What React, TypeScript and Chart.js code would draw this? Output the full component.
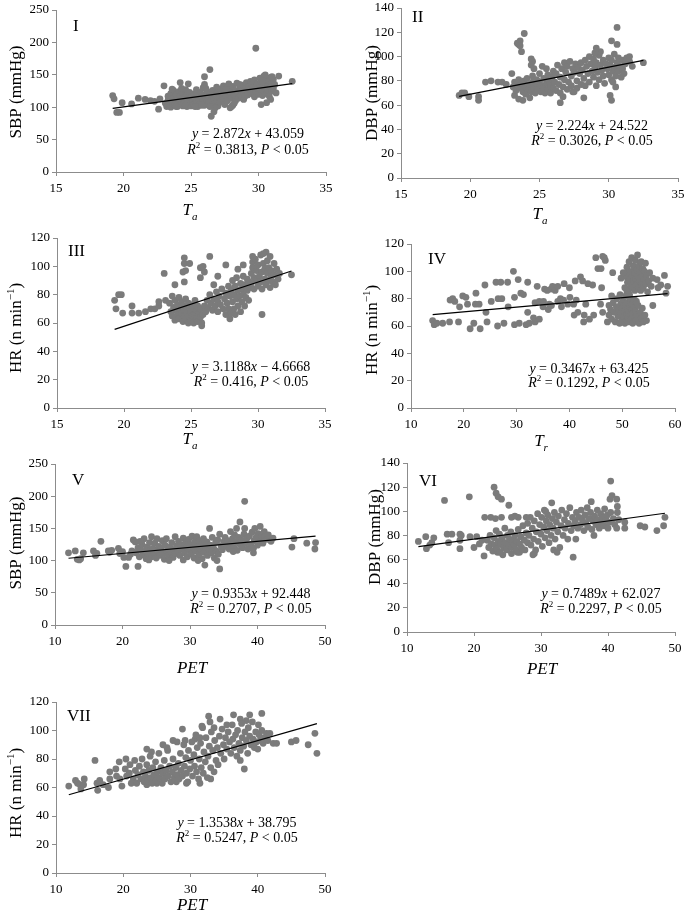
import React, { useEffect, useRef } from 'react';
import { Chart, registerables } from 'chart.js';

Chart.register(...registerables);

const SERIF = '"Liberation Serif", "Times New Roman", Times, serif';

// ---------------- DATA ----------------
// Panel I: Ta vs SBP
const ptsI: number[][] = [
  [19.2,118],[19.3,113],[19.5,92],[19.7,92],[19.9,107],[20.6,105],[21.1,114],[21.6,112],[22.0,110],[22.3,109],[22.7,113],[22.6,97],[23.0,133],
  [23.1,106],[23.2,101],[23.3,111],[23.3,117],[23.4,104],[23.5,121],[23.5,100],[23.6,109],[23.7,126],[23.7,114],[23.8,103],[23.9,119],[23.9,108],[24.0,101],[24.0,113],[24.1,124],[24.2,105],[24.2,117],[24.3,110],[24.4,102],[24.4,121],[24.5,114],[24.5,107],[24.6,127],[24.7,101],[24.7,118],[24.8,111],[24.9,105],[24.9,123],[25.0,115],[25.0,102],[24.2,138],[24.8,136],[23.6,128],[24.3,129],[23.9,101],[24.6,103],[25.0,109],
  [25.1,110],[25.2,120],[25.2,104],[25.3,114],[25.4,127],[25.4,108],[25.5,117],[25.5,101],[25.6,112],[25.7,123],[25.7,106],[25.8,116],[25.9,130],[25.9,110],[26.0,119],[26.0,103],[26.1,113],[26.2,124],[26.3,108],[26.3,117],[26.4,121],[26.5,111],[26.6,126],[26.7,114],[26.7,105],[26.8,119],[26.9,131],[26.9,110],[27.0,123],[27.0,102],
  [26.0,147],[26.4,158],[26.0,135],[26.1,129],[26.5,86],[26.7,93],[26.8,99],[25.3,101],[25.8,103],[26.4,101],
  [27.1,115],[27.2,128],[27.2,108],[27.3,120],[27.4,133],[27.4,112],[27.5,124],[27.5,104],[27.6,118],[27.7,130],[27.7,110],[27.8,136],[27.9,99],[27.9,122],[28.0,114],[28.0,128],[28.1,103],[28.1,132],[28.2,119],[28.3,125],[28.3,110],[28.4,137],[28.5,121],[28.5,114],[28.6,130],[28.7,118],[28.7,126],[28.8,134],[28.9,112],[28.9,123],[29.0,129],[29.0,117],[28.0,101],[28.2,106],[27.6,127],[28.6,135],
  [29.1,138],[29.2,125],[29.2,119],[29.3,132],[29.4,140],[29.4,127],[29.5,121],[29.5,135],[29.6,130],[29.7,142],[29.7,116],[29.8,124],[29.9,136],[30.0,128],[30.0,120],[30.1,145],[30.1,133],[30.2,126],[30.2,139],[30.3,118],[30.3,131],[30.4,148],[30.4,124],[30.5,137],[30.5,129],[30.6,143],[30.6,121],[30.7,134],[30.7,127],[30.8,140],[30.8,117],[30.9,146],[30.9,131],[31.0,125],[31.0,138],[31.1,143],[31.1,129],[31.2,135],[31.3,122],[30.5,150],[30.3,141],[31.0,147],
  [29.8,191],[31.5,148],[32.5,140],[30.2,104],[30.6,107],[30.9,112]
];

// Panel II: Ta vs DBP
const ptsII: number[][] = [
  [19.2,68],[19.4,70],[19.6,70],[19.9,67],[20.6,67],[20.6,64],[21.1,79],[21.5,80],[22.0,79],[22.3,79],[22.6,77],[23.0,86],
  [23.4,111],[23.5,110],[23.6,113],[23.9,119],[23.7,104],[23.6,109],[24.4,98],[24.5,96],[24.4,93],
  [23.2,68],[23.5,65],[23.8,64],[24.3,66],[26.5,62],[28.2,66],[27.4,71],[26.7,67],
  [23.1,75],[23.2,79],[23.3,72],[23.4,77],[23.5,81],[23.6,74],[23.7,78],[23.8,71],[23.9,80],[24.0,75],[24.0,69],[24.1,82],[24.2,73],[24.3,77],[24.4,71],[24.5,79],[24.5,84],[24.6,74],[24.7,70],[24.8,81],[24.8,77],[24.9,73],[25.0,86],[25.0,79],[25.1,71],[25.2,76],[25.3,82],[25.3,74],[25.4,70],[25.5,78],[25.6,85],[25.6,73],[25.7,80],[25.8,76],[25.8,70],[25.9,83],[26.0,74],[26.0,88],[24.6,90],[25.2,92],[25.5,90],
  [26.1,79],[26.2,86],[26.2,72],[26.3,93],[26.4,77],[26.5,83],[26.5,70],[26.6,90],[26.7,75],[26.8,95],[26.8,81],[26.9,87],[27.0,73],[27.0,92],[27.1,79],[27.2,96],[27.3,84],[27.3,76],[27.4,90],[27.5,71],[27.5,87],[27.6,94],[27.7,80],[27.7,74],[27.8,91],[27.9,86],[28.0,77],[28.0,95],
  [28.1,89],[28.2,82],[28.3,97],[28.3,76],[28.4,92],[28.5,86],[28.6,100],[28.6,79],[28.7,94],[28.8,88],[28.9,83],[28.9,98],[29.0,91],[29.1,76],[29.1,95],[29.2,87],[29.3,101],[29.3,81],[29.4,93],[29.5,89],[29.6,97],[29.6,84],[29.7,78],[29.8,94],[29.9,90],[30.0,99],[30.0,85],[30.1,93],[30.2,81],[30.2,97],[30.3,88],[30.4,102],[30.4,91],[30.5,84],[30.6,95],[30.7,99],[30.7,88],[30.8,92],[30.9,83],[31.0,97],[31.0,90],[31.1,86],[31.2,94],[31.3,99],[31.5,96],[31.7,92],[29.4,104],[29.0,103],
  [30.6,124],[30.2,113],[30.6,110],[30.1,68],[30.2,64],[30.5,75],[30.3,79],[29.1,107],[32.5,95],[31.5,100]
];

// Panel III: Ta vs HR
const ptsIII: number[][] = [
  [19.3,76],[19.4,70],[19.6,80],[19.8,80],[19.9,67],[20.6,72],[20.6,67],[21.1,67],[21.6,68],[22.0,70],[22.3,70],[22.6,72],[22.6,75],[23.1,76],[23.0,95],
  [23.8,87],[24.4,96],[24.5,102],[24.5,106],[24.9,102],[24.5,89],[25.7,99],[25.9,100],[25.7,92],[26.4,107],[27.0,93],[27.6,101],[28.5,98],[28.9,101],[29.6,103],[26.0,96],[26.7,87],[24.6,97],
  [30.3,66],[27.9,63],[25.8,58],
  [23.4,74],[23.5,68],[23.6,79],[23.6,65],[23.7,71],[23.8,76],[23.8,62],[23.9,69],[24.0,73],[24.0,66],[24.1,78],[24.1,63],[24.2,70],[24.3,67],[24.3,75],[24.4,61],[24.4,72],[24.5,65],[24.5,69],[24.6,77],[24.6,63],[24.7,71],[24.7,67],[24.8,74],[24.8,60],[24.9,65],[24.9,70],[25.0,62],[25.0,68],[25.1,73],[25.1,65],[25.2,60],[25.2,70],[25.3,66],[25.3,76],[25.4,63],[25.4,69],[25.5,72],[25.5,61],[25.6,67],[25.7,64],[25.7,70],[25.8,60],[25.9,66],
  [26.0,72],[26.1,68],[26.2,76],[26.3,71],[26.4,80],[26.5,74],[26.6,69],[26.7,77],[26.8,72],[26.9,82],[27.0,75],[27.0,68],[27.1,79],[27.2,73],[27.3,84],[27.4,70],[27.5,77],[27.6,81],[27.6,66],[27.7,74],[27.8,86],[27.8,70],[27.9,79],[28.0,67],
  [28.0,83],[28.1,75],[28.1,90],[28.2,70],[28.2,80],[28.3,86],[28.3,66],[28.4,77],[28.4,92],[28.5,72],[28.5,83],[28.6,79],[28.7,88],[28.7,68],[28.8,75],[28.8,84],[28.9,93],[28.9,80],[29.0,72],[29.0,87],[29.1,78],[29.2,91],[29.2,83],[29.3,76],[29.3,89],[29.4,85],
  [29.5,95],[29.5,88],[29.6,99],[29.7,84],[29.7,92],[29.8,105],[29.9,90],[29.9,97],[30.0,86],[30.0,101],[30.1,93],[30.2,108],[30.2,89],[30.3,96],[30.3,84],[30.4,102],[30.5,91],[30.5,98],[30.6,110],[30.6,87],[30.7,95],[30.7,104],[30.8,90],[30.8,99],[30.9,85],[30.9,107],[31.0,93],[31.0,97],[31.1,89],[31.2,102],[31.2,94],[31.3,87],[31.4,98],[31.5,91],[31.6,95],[29.6,107],[30.4,109],
  [32.5,94]
];

// Panel IV: Tr vs HR
const ptsIV: number[][] = [
  [14.1,64],[14.4,61],[14.9,62],[16.0,62],[17.3,63],[17.4,79],[17.9,80],[18.3,78],[19.0,63],[19.2,74],[19.8,82],[20.4,81],[20.7,76],[21.2,58],[21.9,62],[22.3,84],[22.2,76],[22.9,76],[23.1,58],[24.0,90],[24.2,70],[24.4,63],[25.2,78],[26.1,92],[26.5,80],[27.0,92],[27.2,80],[26.4,60],[27.6,62],[28.3,92],[28.4,74],[29.4,100],[29.6,81],[29.6,61],[30.3,94],[30.5,62],[30.8,84],[31.3,83],[32.1,92],[31.8,61],[32.4,62],[32.1,70],[33.2,66],[33.5,77],[33.9,89],[33.5,63],[34.3,65],[34.3,78],[35.3,87],[35.8,86],[35.1,78],[36.0,72],[36.2,76],[36.5,87],[36.8,89],[37.3,86],[37.8,78],[37.8,89],[38.3,80],[38.5,74],[39.0,91],[39.7,76],[40.1,81],[40.8,76],[41.1,93],[41.3,79],[40.9,68],[41.6,70],[42.1,96],[42.5,93],[42.8,68],[43.1,76],[43.5,91],[42.7,63],[43.8,65],[44.4,90],[44.6,68],[45.0,110],[45.4,102],[46.0,102],[46.3,111],[46.6,110],[46.1,88],[46.8,108],[46.3,70],[45.9,76],[47.2,63],[48.2,99],[47.5,75],[48.0,82],[36.6,75],[38.9,79],[35.0,74],[40.0,88],
  [47.5,68],[47.8,72],[48.0,65],[48.3,77],[48.5,70],[48.7,63],[48.9,74],[49.0,80],[49.2,67],[49.4,71],[49.5,62],[49.7,76],[49.8,69],[50.0,73],[50.0,64],[50.2,79],[50.3,67],[50.4,71],[50.5,62],[50.6,75],[50.7,82],[50.8,68],[50.9,64],[51.0,72],[51.0,77],[51.1,66],[51.2,70],[51.3,63],[51.4,74],[51.5,80],[51.6,68],[51.7,65],[51.8,72],[51.9,76],[52.0,62],[52.1,69],[52.2,73],[52.3,66],[52.4,79],[52.5,71],[52.6,64],[52.8,68],[53.0,75],[53.2,62],[53.4,70],[53.6,66],[53.8,73],[54.0,63],[54.3,68],[54.6,64],[49.6,83],[50.9,85],[52.7,78],
  [50.5,88],[50.8,96],[50.9,103],[51.0,92],[51.1,99],[51.2,86],[51.3,107],[51.5,94],[51.6,90],[51.7,100],[51.8,110],[51.9,97],[52.0,88],[52.1,104],[52.2,93],[52.3,99],[52.4,86],[52.5,108],[52.6,95],[52.7,90],[52.8,101],[52.9,112],[53.0,96],[53.1,88],[53.2,104],[53.3,93],[53.4,99],[53.5,86],[53.6,107],[53.7,91],[53.8,97],[53.9,102],[54.0,88],[54.1,94],[54.2,100],[54.4,106],[54.5,91],[54.6,97],[54.8,85],[55.0,93],[55.2,99],[55.5,89],[55.8,95],[49.8,95],[50.2,99],[51.4,83],
  [55.8,75],[56.6,94],[57.3,90],[58.0,97],[58.6,89],[56.8,88],[58.3,84]
];

// Panel V: PET vs SBP
const ptsV: number[][] = [
  [12.0,112],[13.0,115],[13.3,102],[13.6,101],[13.8,103],[14.2,112],[15.7,115],[16.2,111],[16.8,130],[17.9,115],[18.4,116],[19.4,119],[19.6,111],[20.2,105],[20.5,91],[20.9,105],[21.4,115],[21.6,132],[21.9,129],[22.3,91],[18.1,113],[20.0,114],[16.0,108],[21.2,110],
  [22.0,112],[22.3,120],[22.5,106],[22.7,117],[22.9,125],[23.0,109],[23.2,134],[23.3,114],[23.5,103],[23.6,121],[23.8,110],[24.0,128],[24.1,116],[24.3,137],[24.3,106],[24.5,119],[24.7,112],[24.8,127],[25.0,104],[25.1,134],[25.2,115],[25.4,122],[25.5,108],[25.7,118],[25.9,131],[26.0,111],[26.2,102],[26.3,124],[26.5,134],[26.6,115],[26.8,108],[27.0,121],[27.1,113],[27.3,128],[27.5,105],[27.6,117],[27.8,137],[27.9,111],[28.0,123],[23.9,101],[26.9,100],[22.6,130],
  [28.2,115],[28.3,130],[28.5,108],[28.6,124],[28.8,118],[29.0,101],[29.0,135],[29.2,112],[29.3,127],[29.5,121],[29.6,106],[29.8,133],[30.0,116],[30.0,125],[30.2,110],[30.3,138],[30.5,120],[30.6,104],[30.7,129],[30.9,115],[31.0,137],[31.1,122],[31.3,109],[31.4,131],[31.5,118],[31.7,126],[31.8,103],[32.0,134],[32.1,113],[32.2,93],[32.3,121],[32.5,129],[32.6,108],[32.8,117],[32.9,150],[33.0,124],[33.2,112],[33.3,136],[33.5,119],[33.6,104],[33.8,128],[33.9,115],[34.1,132],[34.2,110],[34.4,87],[34.4,141],[34.6,123],[34.8,117],[35.0,129],[34.0,100],[31.2,100],
  [35.2,136],[35.4,122],[35.6,131],[35.8,118],[36.0,145],[36.1,127],[36.3,134],[36.5,121],[36.6,140],[36.8,129],[36.9,150],[37.0,116],[37.2,136],[37.4,160],[37.4,125],[37.6,132],[37.8,120],[38.0,141],[38.1,192],[38.1,150],[38.2,127],[38.4,134],[38.6,118],[38.8,138],[39.0,125],[39.2,144],[39.4,119],[39.5,131],[39.6,150],[39.8,136],[40.0,124],[40.1,142],[40.4,153],[40.4,130],[40.6,138],[40.8,127],[41.0,145],[41.1,137],[41.4,133],[41.6,140],[42.0,130],[42.3,135],[39.4,112],[36.4,114],
  [45.1,121],[45.4,134],[47.3,127],[48.5,118],[48.6,128]
];

// Panel VI: PET vs DBP
const ptsVI: number[][] = [
  [11.7,75],[12.8,79],[12.9,69],[13.4,72],[13.7,74],[14.0,78],[15.6,109],[16.0,81],[16.2,74],[16.7,81],[17.9,81],[18.1,80],[17.9,76],[17.9,69],[19.3,112],[19.4,79],[20.0,70],[20.4,79],[21.5,63],[21.6,95],[20.8,73],[21.2,76],
  [23.0,120],[23.3,115],[23.6,112],[24.1,110],[25.2,105],[24.1,95],[25.6,95],[26.6,95],[27.8,95],[22.5,95],[23.2,94],[26.1,96],
  [24.3,64],[25.6,65],[26.5,66],[26.8,66],[28.8,64],[31.9,68],[34.8,62],[35.2,77],[23.5,66],
  [22.0,76],[22.2,70],[22.4,80],[22.6,73],[22.8,67],[23.0,78],[23.1,72],[23.3,84],[23.4,69],[23.6,75],[23.8,81],[23.9,66],[24.0,73],[24.2,78],[24.4,70],[24.6,86],[24.7,74],[24.9,68],[25.0,80],[25.2,72],[25.3,77],[25.5,83],[25.6,70],[25.8,76],[26.0,72],[26.1,80],[26.3,68],[26.4,75],[26.6,85],[26.8,73],[27.0,79],[27.1,70],[27.3,88],[27.5,76],[27.6,68],[27.8,82],[28.0,74],[28.0,90],
  [28.2,80],[28.4,95],[28.5,72],[28.7,86],[28.9,77],[29.0,92],[29.2,68],[29.3,83],[29.5,98],[29.6,75],[29.8,89],[30.0,81],[30.1,95],[30.2,71],[30.4,87],[30.5,101],[30.6,78],[30.8,92],[30.9,84],[31.0,97],[31.2,74],[31.3,89],[31.5,80],[31.6,107],[31.7,94],[31.8,86],[32.0,99],[32.1,77],[32.3,91],[32.5,83],[32.6,96],[32.8,70],[33.0,88],[33.1,101],[33.3,80],[33.5,93],[33.6,86],[33.8,98],[34.0,77],[34.1,90],[34.3,103],[34.5,84],[34.7,95],[34.9,88],[29.0,65],[32.4,66],[30.7,100],
  [35.1,92],[35.3,99],[35.5,86],[35.7,95],[35.9,89],[36.0,101],[36.2,93],[36.4,84],[36.6,97],[36.7,90],[36.9,103],[37.0,87],[37.2,94],[37.4,99],[37.5,108],[37.6,85],[37.8,92],[37.9,80],[38.0,96],[38.2,89],[38.4,101],[38.5,93],[38.7,86],[38.9,98],[39.0,91],[39.2,95],[39.4,88],[39.5,102],[39.7,93],[39.9,97],[40.0,86],[40.2,91],[40.3,110],[40.4,125],[40.6,113],[40.4,99],[40.8,94],[41.0,89],[41.3,110],[41.4,104],[41.4,99],[41.3,86],[41.6,93],
  [42.5,86],[42.5,91],[44.8,88],[45.5,87],[47.3,84],[48.3,88],[48.5,95]
];

// Panel VII: PET vs HR
const ptsVII: number[][] = [
  [11.9,61],[12.9,65],[13.2,63],[13.6,62],[13.7,59],[14.2,66],[14.1,62],[15.8,79],[16.1,63],[16.2,58],[16.5,65],[17.0,62],[17.8,60],[18.0,66],[18.0,71],[18.9,73],[19.4,78],[19.5,66],[19.8,61],[20.3,73],[20.4,80],[20.5,68],[21.0,76],[21.2,63],[21.7,79],[20.9,70],[19.0,68],
  [23.5,87],[24.2,85],[25.9,90],[26.5,88],[27.4,93],[28.8,101],[29.2,93],[30.7,94],[31.4,95],[31.7,103],[32.7,110],[32.9,106],[34.4,108],[35.4,104],[36.4,111],[37.4,108],[38.3,107],[38.8,111],[40.6,112],[40.1,104],[28.0,92],[33.5,102],
  [23.5,62],[25.0,63],[27.9,64],[29.4,63],[31.4,63],[33.0,66],[38.0,73],[37.4,79],
  [21.5,66],[21.8,72],[22.0,63],[22.2,69],[22.4,75],[22.6,66],[22.8,80],[23.0,71],[23.1,64],[23.3,68],[23.5,76],[23.6,65],[23.8,72],[24.0,82],[24.1,67],[24.3,63],[24.4,74],[24.6,69],[24.8,78],[24.9,65],[25.1,71],[25.3,84],[25.4,67],[25.6,74],[25.8,63],[25.9,70],[26.1,79],[26.2,66],[26.4,72],[26.6,86],[26.7,68],[26.9,75],[27.1,64],[27.3,71],[27.4,80],[27.6,67],[27.8,74],[28.0,69],
  [28.2,77],[28.3,66],[28.5,84],[28.6,72],[28.8,68],[29.0,90],[29.1,75],[29.3,81],[29.4,70],[29.6,64],[29.7,86],[29.9,73],[30.0,79],[30.2,92],[30.3,68],[30.5,83],[30.6,75],[30.8,97],[30.9,71],[31.0,88],[31.2,66],[31.3,80],[31.5,91],[31.6,74],[31.8,102],[31.9,70],[32.0,85],[32.2,78],[32.3,95],[32.5,67],[32.6,82],[32.8,89],[33.0,74],[33.1,99],[33.3,86],[33.5,71],[33.6,93],[33.8,79],[34.0,88],[34.1,76],
  [34.3,96],[34.5,84],[34.7,101],[34.9,90],[35.0,80],[35.2,95],[35.4,87],[35.6,99],[35.8,92],[36.0,84],[36.2,104],[36.3,94],[36.5,88],[36.7,97],[36.9,82],[37.0,100],[37.2,91],[37.4,86],[37.6,105],[37.7,95],[37.9,89],[38.1,99],[38.3,93],[38.5,84],[38.6,102],[38.8,96],[39.0,90],[39.2,106],[39.3,94],[39.5,88],[39.7,99],[39.8,92],[40.0,87],[40.2,97],[40.4,93],[40.6,100],[40.8,91],[41.0,95],[41.3,98],[41.5,93],
  [41.3,94],[41.8,98],[42.3,91],[42.8,91],[45.0,92],[45.7,93],[47.5,90],[48.5,98],[48.8,84]
];

const panelLabels = ['I', 'II', 'III', 'IV', 'V', 'VI', 'VII'];
const slopes = [2.872, 2.224, 3.1188, 0.3467, 0.9353, 0.7489, 1.3538];
const intercepts = [43.059, 24.522, -4.6668, 63.425, 92.448, 62.027, 38.795];
const r2Values = ['0.3813', '0.3026', '0.416', '0.1292', '0.2707', '0.2297', '0.5247'];
const pValueText = '0.05';
const xAxisNames = ['Ta', 'Ta', 'Ta', 'Tr', 'PET', 'PET', 'PET'];
const yAxisNames = ['SBP', 'DBP', 'HR', 'HR', 'SBP', 'DBP', 'HR'];
const xRanges = [[15, 35, 5], [15, 35, 5], [15, 35, 5], [10, 60, 10], [10, 50, 10], [10, 50, 10], [10, 50, 10]];
const yRanges = [[0, 250, 50], [0, 140, 20], [0, 120, 20], [0, 120, 20], [0, 250, 50], [0, 140, 20], [0, 120, 20]];
const allPoints = [ptsI, ptsII, ptsIII, ptsIV, ptsV, ptsVI, ptsVII];

// ---------------- LAYOUT (page pixels) ----------------
type Box = { x: number; y: number; w: number; h: number };
type Layout = {
  canvas: Box;
  plot: { l: number; t: number; r: number; b: number };
  roman: [number, number];
  yTitle: [number, number];
  xTitle: [number, number];
  eq: [number, number, number];
};
const layouts: Layout[] = [
  { canvas: { x: 0, y: 0, w: 345, h: 225 }, plot: { l: 56, t: 10, r: 326, b: 172 }, roman: [73, 25], yTitle: [15, 92], xTitle: [190, 209], eq: [248, 133, 149] },
  { canvas: { x: 345, y: 0, w: 340, h: 225 }, plot: { l: 401, t: 8, r: 678, b: 178 }, roman: [412, 16], yTitle: [371, 93], xTitle: [540, 213], eq: [592, 125, 140] },
  { canvas: { x: 0, y: 225, w: 345, h: 230 }, plot: { l: 57, t: 238, r: 325, b: 408 }, roman: [68, 250], yTitle: [15, 328], xTitle: [190, 438], eq: [251, 366, 381] },
  { canvas: { x: 345, y: 225, w: 340, h: 230 }, plot: { l: 411, t: 244, r: 675, b: 408 }, roman: [428, 258], yTitle: [371, 330], xTitle: [541, 440], eq: [589, 368, 382] },
  { canvas: { x: 0, y: 455, w: 345, h: 235 }, plot: { l: 55, t: 464, r: 325, b: 625 }, roman: [72, 479], yTitle: [15, 543], xTitle: [192, 667], eq: [251, 593, 608] },
  { canvas: { x: 345, y: 455, w: 340, h: 235 }, plot: { l: 407, t: 463, r: 675, b: 632 }, roman: [419, 480], yTitle: [374, 537], xTitle: [542, 668], eq: [601, 593, 608] },
  { canvas: { x: 0, y: 690, w: 345, h: 231 }, plot: { l: 56, t: 702, r: 325, b: 873 }, roman: [67, 715], yTitle: [15, 793], xTitle: [192, 904], eq: [237, 822, 837] },
];

// ---------------- RICH TEXT ----------------
type Seg = { t: string; it?: boolean; sub?: boolean; sup?: boolean };
function segFont(s: Seg, size: number) {
  const sz = s.sub || s.sup ? Math.round(size * 0.66) : size;
  return `${s.it ? 'italic ' : ''}${sz}px ${SERIF}`;
}
function drawRich(ctx: CanvasRenderingContext2D, segs: Seg[], x: number, y: number, size: number, align: 'left' | 'center', angle = 0) {
  ctx.save();
  ctx.translate(x, y);
  if (angle) ctx.rotate(angle);
  ctx.textAlign = 'left';
  ctx.textBaseline = 'alphabetic';
  ctx.fillStyle = '#000';
  const widths = segs.map((s) => {
    ctx.font = segFont(s, size);
    return ctx.measureText(s.t).width;
  });
  const total = widths.reduce((a, b) => a + b, 0);
  let cx = align === 'center' ? -total / 2 : 0;
  const base = size * 0.34;
  segs.forEach((s, i) => {
    ctx.font = segFont(s, size);
    const dy = s.sub ? size * 0.3 : s.sup ? -size * 0.38 : 0;
    ctx.fillText(s.t, cx, base + dy);
    cx += widths[i];
  });
  ctx.restore();
}

function xTitleSegs(name: string): Seg[] {
  if (name === 'Ta') return [{ t: 'T', it: true }, { t: 'a', it: true, sub: true }];
  if (name === 'Tr') return [{ t: 'T', it: true }, { t: 'r', it: true, sub: true }];
  return [{ t: name, it: true }];
}
function yTitleSegs(name: string): Seg[] {
  if (name === 'HR') return [{ t: 'HR (n min' }, { t: '−1', sup: true }, { t: ')' }];
  return [{ t: `${name} (mmHg)` }];
}
function eqSegs(i: number): Seg[] {
  const b = intercepts[i];
  const sign = b < 0 ? ' − ' : ' + ';
  return [{ t: 'y', it: true }, { t: ` = ${slopes[i]}` }, { t: 'x', it: true }, { t: `${sign}${Math.abs(b)}` }];
}
function r2Segs(i: number): Seg[] {
  return [{ t: 'R', it: true }, { t: '2', sup: true }, { t: ` = ${r2Values[i]}, ` }, { t: 'P', it: true }, { t: ` < ${pValueText}` }];
}

// ---------------- PANEL ----------------
function Panel({ idx }: { idx: number }) {
  const ref = useRef<HTMLCanvasElement>(null);
  const L = layouts[idx];
  useEffect(() => {
    const pts = allPoints[idx];
    const xs = pts.map((p) => p[0]);
    const x0 = Math.min(...xs);
    const x1 = Math.max(...xs);
    const trend = [
      { x: x0, y: slopes[idx] * x0 + intercepts[idx] },
      { x: x1, y: slopes[idx] * x1 + intercepts[idx] },
    ];
    const c = L.canvas;
    const padTop = L.plot.t - c.y;
    const padRight = c.x + c.w - L.plot.r;
    const yW = L.plot.l - c.x;
    const xH = c.y + c.h - L.plot.b;
    const axisColor = '#8c8c8c';
    const tickFont = { family: SERIF, size: 13 };
    const ann = {
      id: 'ann' + idx,
      afterDraw(chart: any) {
        const ctx = chart.ctx as CanvasRenderingContext2D;
        const ox = c.x, oy = c.y;
        drawRich(ctx, [{ t: panelLabels[idx] }], L.roman[0] - ox, L.roman[1] - oy, 17, 'left');
        drawRich(ctx, yTitleSegs(yAxisNames[idx]), L.yTitle[0] - ox, L.yTitle[1] - oy, 17, 'center', -Math.PI / 2);
        drawRich(ctx, xTitleSegs(xAxisNames[idx]), L.xTitle[0] - ox, L.xTitle[1] - oy, 17, 'center');
        drawRich(ctx, eqSegs(idx), L.eq[0] - ox, L.eq[1] - oy, 14, 'center');
        drawRich(ctx, r2Segs(idx), L.eq[0] - ox, L.eq[2] - oy, 14, 'center');
      },
    };
    const chart = new Chart(ref.current as HTMLCanvasElement, {
      type: 'scatter',
      data: {
        datasets: [
          {
            data: trend,
            showLine: true,
            borderColor: '#000',
            borderWidth: 1.2,
            pointRadius: 0,
            fill: false,
            order: 0,
          } as any,
          {
            data: pts.map((p) => ({ x: p[0], y: p[1] })),
            backgroundColor: '#7b7b7b',
            borderWidth: 0,
            pointRadius: 3.4,
            order: 1,
          } as any,
        ],
      },
      options: {
        animation: false,
        responsive: false,
        maintainAspectRatio: false,
        events: [],
        layout: { padding: { top: padTop, right: padRight, left: 0, bottom: 0 } },
        plugins: { legend: { display: false }, tooltip: { enabled: false } },
        scales: {
          x: {
            type: 'linear',
            min: xRanges[idx][0],
            max: xRanges[idx][1],
            ticks: { stepSize: xRanges[idx][2], font: tickFont, color: '#000', padding: 5, maxRotation: 0, autoSkip: false },
            grid: { drawOnChartArea: false, drawTicks: true, tickLength: 4, color: axisColor },
            border: { display: true, color: axisColor, width: 1 },
            afterFit: (s: any) => {
              s.height = xH;
              s.paddingLeft = 0;
              s.paddingRight = 0;
            },
          },
          y: {
            type: 'linear',
            min: yRanges[idx][0],
            max: yRanges[idx][1],
            ticks: { stepSize: yRanges[idx][2], font: tickFont, color: '#000', padding: 3, autoSkip: false },
            grid: { drawOnChartArea: false, drawTicks: true, tickLength: 4, color: axisColor },
            border: { display: true, color: axisColor, width: 1 },
            afterFit: (s: any) => {
              s.width = yW;
              s.paddingTop = 0;
              s.paddingBottom = 0;
            },
          },
        },
      } as any,
      plugins: [ann],
    });
    return () => chart.destroy();
  }, [idx]);
  return (
    <canvas
      ref={ref}
      width={L.canvas.w}
      height={L.canvas.h}
      style={{ position: 'absolute', left: L.canvas.x, top: L.canvas.y, width: L.canvas.w, height: L.canvas.h, display: 'block' }}
    />
  );
}

export default function App() {
  return (
    <div style={{ position: 'absolute', left: 0, top: 0, width: 685, height: 921, background: '#fff', overflow: 'hidden' }}>
      {layouts.map((_, i) => (
        <Panel key={i} idx={i} />
      ))}
    </div>
  );
}
